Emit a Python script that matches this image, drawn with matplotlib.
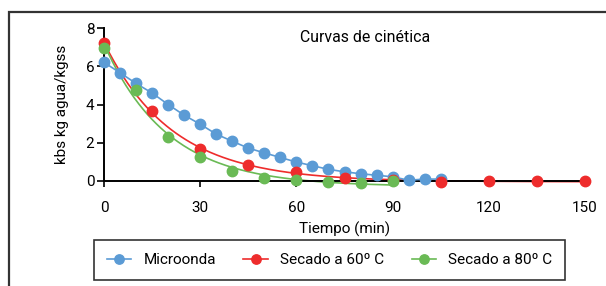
import numpy as np
import matplotlib
matplotlib.use("Agg")
import matplotlib.pyplot as plt
from matplotlib.patches import Rectangle

plt.rcParams['font.family'] = ['Roboto', 'DejaVu Sans']

# datos
t_micro = [0, 5, 10, 15, 20, 25, 30, 35, 40, 45, 50, 55, 60, 65, 70, 75, 80, 85, 90, 95, 100, 105]
x_micro = [6.2, 5.66, 5.1, 4.6, 4.0, 3.44, 2.97, 2.45, 2.08, 1.72, 1.47, 1.23, 0.99,
           0.8, 0.61, 0.48, 0.38, 0.3, 0.22, 0.04, 0.1, 0.1]
t_60 = [0, 15, 30, 45, 60, 75, 90, 105, 120, 135, 150]
x_60 = [7.22, 3.65, 1.65, 0.82, 0.48, 0.14, 0.03, -0.03, 0.0, 0.0, 0.0]
t_80 = [0, 10, 20, 30, 40, 50, 60, 70, 80, 90]
x_80 = [6.96, 4.74, 2.3, 1.23, 0.54, 0.14, 0.05, -0.03, -0.09, 0.0]

c_blue = '#5b9bd5'
c_red = '#ee2c2c'
c_green = '#6aba55'


# ajuste exponencial y = a*exp(-k t) + c (busqueda en k, minimos cuadrados en a, c)
def ajuste_exp(t, y):
    t = np.array(t, float)
    y = np.array(y, float)
    mejor = None
    for k in np.linspace(0.005, 0.3, 3000):
        A = np.column_stack((np.exp(-k * t), np.ones_like(t)))
        coef, res, _, _ = np.linalg.lstsq(A, y, rcond=None)
        sse = np.sum((A @ coef - y) ** 2)
        if mejor is None or sse < mejor[0]:
            mejor = (sse, k, coef)
    return mejor[1], mejor[2]


fig = plt.figure(figsize=(6.06, 2.86), dpi=100)
ax = fig.add_axes([104 / 606, 105 / 286, 481 / 606, 153 / 286])

# marco exterior
fig.add_artist(Rectangle((9 / 606, -0.2), 1.2, 1.2 - 12 / 286, transform=fig.transFigure,
                         fill=False, ec='#333333', lw=1.6, clip_on=False))

ms = 7.5
# microondas: puntos unidos
ax.plot(t_micro, x_micro, color=c_blue, lw=1.2, marker='o', ms=ms, clip_on=False,
        zorder=3, label='Microonda')

# 60 C
k, (a, c) = ajuste_exp(t_60, x_60)
tt = np.linspace(0, 150, 300)
ax.plot(tt, a * np.exp(-k * tt) + c, color=c_red, lw=1.2, zorder=2, clip_on=False)
ax.plot(t_60, x_60, 'o', color=c_red, ms=ms, clip_on=False, zorder=3)
ax.plot([], [], color=c_red, lw=1.2, marker='o', ms=ms, label='Secado a 60º C')

# 80 C
k, (a, c) = ajuste_exp(t_80, x_80)
tt = np.linspace(0, 90, 200)
ax.plot(tt, a * np.exp(-k * tt) + c, color=c_green, lw=1.2, zorder=2, clip_on=False)
ax.plot(t_80, x_80, 'o', color=c_green, ms=ms, clip_on=False, zorder=4)
ax.plot([], [], color=c_green, lw=1.2, marker='o', ms=ms, label='Secado a 80º C')

ax.set_xlim(0, 150)
ax.set_ylim(0, 8)
ax.set_xticks([0, 30, 60, 90, 120, 150])
ax.set_yticks([0, 2, 4, 6, 8])
for s in ['top', 'right']:
    ax.spines[s].set_visible(False)
ax.spines['left'].set_linewidth(1.4)
ax.spines['bottom'].set_linewidth(1.4)
ax.tick_params(axis='x', length=4, width=1.2, pad=10.5, labelsize=11)
ax.tick_params(axis='y', length=5, width=1.2, pad=2, labelsize=11)
ax.set_xlabel('Tiempo (min)', fontsize=11, labelpad=5)
ax.set_ylabel('kbs kg agua/kgss', fontsize=11, labelpad=12)

fig.text(365 / 606, 1 - 37 / 286, 'Curvas de cinética', ha='center', va='center', fontsize=11.4)

leg = fig.legend(loc='center', bbox_to_anchor=(329.5 / 606, 1 - 260 / 286), ncol=3,
                 fontsize=11, frameon=True, fancybox=False, edgecolor='black',
                 handlelength=1.6, handletextpad=0.8, columnspacing=1.8,
                 borderpad=0.85, markerscale=0.9)
leg.get_frame().set_linewidth(1.2)

fig.savefig('out.png', dpi=100)
